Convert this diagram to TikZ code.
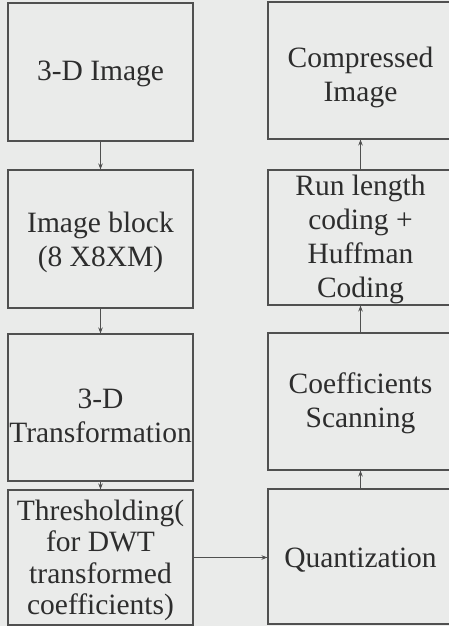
\documentclass[tikz,border=0pt]{standalone}
\usepackage{fontspec}
\setmainfont{Liberation Serif}
\usetikzlibrary{arrows.meta,calc}
\definecolor{paper}{RGB}{234,235,234}
\definecolor{ink}{RGB}{45,45,45}
\definecolor{edge}{RGB}{80,80,80}
\tikzset{
  blk/.style={draw=edge, line width=1.1pt, minimum width=185pt, inner sep=0pt},
  txt/.style={inner sep=0pt, align=center, text=ink, font=\fontsize{29.5}{34}\selectfont},
  conn/.style={draw=edge, line width=0.9pt, -{Stealth[length=6pt,width=4.5pt]}}
}
\begin{document}
\begin{tikzpicture}[x=1pt,y=-1pt]
\fill[paper] (0,0) rectangle (449,626);
\useasboundingbox (0,0) rectangle (449,626);
% left column
\node[blk, minimum height=138pt] (b1) at (100.5,72) {};
\node[blk, minimum height=138pt] (b2) at (100.5,239) {};
\node[blk, minimum height=147pt] (b3) at (100.5,407.5) {};
\node[blk, minimum height=135pt] (b4) at (100.5,557.5) {};
% right column
\node[blk, minimum height=137pt] (b5) at (360.5,70.5) {};
\node[blk, minimum height=135pt] (b6) at (360.5,237.5) {};
\node[blk, minimum height=137pt] (b7) at (360.5,401.5) {};
\node[blk, minimum height=135pt] (b8) at (360.5,556.5) {};
% texts
\node[txt, yshift=-2pt] (t1) at (b1) {3-D Image};
\node[txt, yshift=-3pt] (t2) at (b2) {Image block\\(8 X8XM)};
\node[txt, yshift=-8pt] (t3) at (b3) {3-D\\Transformation};
\node[txt, yshift=-3pt, font=\fontsize{29.5}{31.5}\selectfont] (t4) at (b4) {Thresholding(\\for DWT\\transformed\\coefficients)};
\node[txt, yshift=-7pt] (t5) at (b5) {Compressed\\Image};
\node[txt, yshift=-2pt] (t6) at (b6) {Run length\\coding +\\Huffman\\Coding};
\node[txt, yshift=-2pt] (t7) at (b7) {Coefficients\\Scanning};
\node[txt, yshift=-4pt] (t8) at (b8) {Quantization};
% connectors
\draw[conn] (b1) -- (b2);
\draw[conn] (b2) -- (b3);
\draw[conn] (b3) -- (b4);
\draw[conn] (b4.east) -- (b4.east -| b8.west);
\draw[conn] (b8) -- (b7);
\draw[conn] (b7) -- (b6);
\draw[conn] (b6) -- (b5);
\end{tikzpicture}
\end{document}
